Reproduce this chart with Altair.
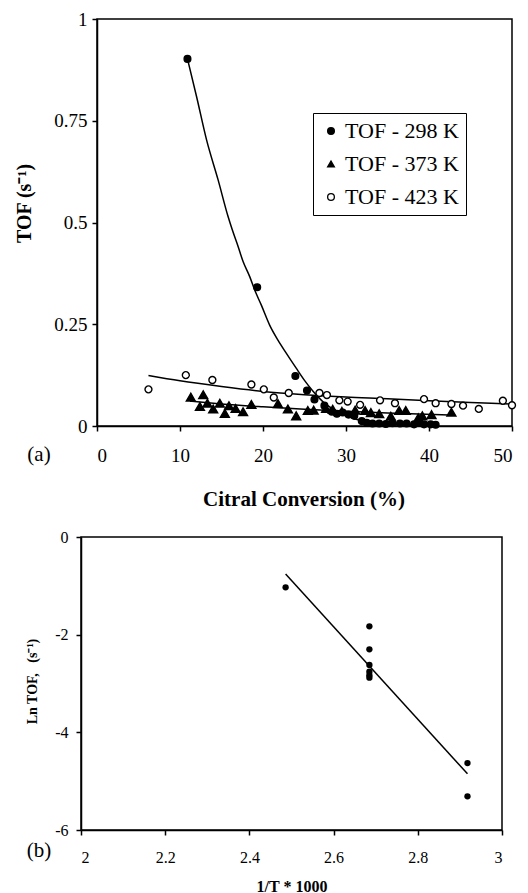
import altair as alt
import pandas as pd

FONT = "Liberation Serif"

# ---------------- panel (a): TOF vs citral conversion ----------------
names = ["TOF - 298 K", "TOF - 373 K", "TOF - 423 K"]

t298_x = [10.9, 19.3, 23.9, 25.3, 26.2, 27.4, 28.3, 28.9, 29.6, 30.3, 31.0, 31.9,
          32.5, 33.2, 34.0, 34.8, 35.6, 36.5, 37.3, 38.2, 38.8, 39.4, 40.2, 40.8]
t298_y = [0.902, 0.341, 0.123, 0.087, 0.065, 0.050, 0.035, 0.030, 0.033, 0.028, 0.025, 0.012,
          0.008, 0.006, 0.006, 0.005, 0.007, 0.006, 0.006, 0.004, 0.012, 0.004, 0.004, 0.003]

t373_x = [11.3, 12.4, 12.8, 13.3, 14.0, 14.8, 15.4, 15.9, 16.7, 17.6, 18.6, 21.8, 23.0, 24.0, 25.4,
          26.1, 27.6, 28.4, 29.5, 31.1, 32.3, 33.0, 34.0, 35.4, 36.4, 37.2, 38.7, 39.2, 40.3, 42.7]
t373_y = [0.071, 0.048, 0.077, 0.056, 0.042, 0.056, 0.031, 0.050, 0.043, 0.035, 0.053, 0.055, 0.042, 0.025, 0.038,
          0.039, 0.043, 0.041, 0.036, 0.039, 0.038, 0.033, 0.030, 0.024, 0.038, 0.038, 0.020, 0.025, 0.028, 0.034]

t423_x = [6.2, 10.7, 13.9, 18.6, 20.1, 21.3, 23.1, 26.8, 27.7, 29.2, 30.2, 31.7, 34.1, 35.9,
          39.4, 40.8, 42.7, 44.1, 46.0, 48.9, 50.0]
t423_y = [0.090, 0.125, 0.113, 0.102, 0.090, 0.070, 0.081, 0.081, 0.076, 0.063, 0.060, 0.052, 0.063, 0.056,
          0.066, 0.056, 0.054, 0.050, 0.042, 0.062, 0.051]

# trend curves
fit298_x = [10.9, 12.0, 13.2, 14.6, 15.8, 16.3, 17.0, 17.6, 18.4, 19.0, 19.8, 20.8, 21.8, 22.8,
            24.0, 25.0, 26.0, 27.2, 29.0, 31.0, 34.0, 37.0, 40.5]
fit298_y = [0.902, 0.809, 0.703, 0.604, 0.514, 0.482, 0.441, 0.404, 0.367, 0.334, 0.297, 0.248, 0.211, 0.179,
            0.142, 0.112, 0.086, 0.060, 0.035, 0.018, 0.008, 0.003, 0.000]
fit373_x = [11.2, 15, 20, 25, 30, 35, 42.5]
fit373_y = [0.061, 0.054, 0.047, 0.041, 0.036, 0.032, 0.027]
fit423_x = [6.2, 10, 15, 20, 25, 30, 35, 40, 45, 50]
fit423_y = [0.124, 0.111, 0.097, 0.085, 0.077, 0.071, 0.067, 0.062, 0.058, 0.054]

xa_domain = [0, 50]
ya_domain = [0, 1]
xa_ticks = [0, 10, 20, 30, 40, 50]
ya_ticks = [0, 0.25, 0.5, 0.75, 1]

# ---------------- panel (b): Arrhenius plot ----------------
b_x = [2.486, 2.685, 2.685, 2.685, 2.685, 2.685, 2.685, 2.918, 2.918]
b_y = [-1.03, -1.83, -2.30, -2.62, -2.76, -2.83, -2.88, -4.63, -5.31]
fitb_x = [2.486, 2.918]
fitb_y = [-0.76, -4.85]

xb_domain = [2, 3]
yb_domain = [-6, 0]
xb_ticks = [2, 2.2, 2.4, 2.6, 2.8, 3]
yb_ticks = [-6, -4, -2, 0]

# ---------------- tables ----------------
series_x = [t298_x, t373_x, t423_x]
series_y = [t298_y, t373_y, t423_y]
df_series = [pd.DataFrame({"x": sx, "y": sy, "series": [nm] * len(sx)})
             for sx, sy, nm in zip(series_x, series_y, names)]
df_fit = pd.DataFrame({
    "x": fit298_x + fit373_x + fit423_x,
    "y": fit298_y + fit373_y + fit423_y,
    "curve": ["a"] * len(fit298_x) + ["b"] * len(fit373_x) + ["c"] * len(fit423_x),
})
df_frame_a = pd.DataFrame({"x": [xa_domain[0]], "x2": [xa_domain[1]], "y": [ya_domain[0]], "y2": [ya_domain[1]]})
df_b = pd.DataFrame({"x": b_x, "y": b_y})
df_bfit = pd.DataFrame({"x": fitb_x, "y": fitb_y})

# ---------------- panel (a) chart ----------------
xa_scale = alt.Scale(domain=xa_domain, range=[16, 431], nice=False, zero=False)
ya_scale = alt.Scale(domain=ya_domain, nice=False, zero=False)

xa_axis = alt.Axis(values=xa_ticks, labelExpr="toString(datum.value)", title="Citral Conversion (%)",
                   tickSize=5, labelPadding=15, labelFontSize=19, titleFontSize=21,
                   titleFontWeight="bold", titleX=222.5, titleY=73, titleBaseline="middle")
ya_axis = alt.Axis(values=ya_ticks, labelExpr="toString(datum.value)", title="TOF (s⁻¹)",
                   offset=-16, tickSize=5, labelPadding=5, labelFontSize=19, titleFontSize=20,
                   titleFontWeight="bold", titleX=-73, titleY=184, titleBaseline="middle")

leg = alt.Legend(title=None, orient="none", legendX=232, legendY=94, direction="vertical",
                 labelFont=FONT, labelFontSize=22, labelColor="black", labelOffset=3,
                 rowPadding=11, padding=7, strokeColor="black", fillColor="white",
                 symbolSize=45, symbolStrokeColor="black", symbolStrokeWidth=1.3, symbolOpacity=1)

shape_scale = alt.Scale(domain=names, range=["circle", "triangle-up", "circle"])
fill_scale = alt.Scale(domain=names, range=["black", "black", "white"])
stroke_scale = alt.Scale(domain=names, range=["black", "black", "black"])
mark_sizes = [45, 80, 48]

frame_a = alt.Chart(df_frame_a).mark_rect(fill="transparent", stroke="black", strokeWidth=1.5).encode(
    x=alt.X("x:Q", scale=xa_scale, axis=xa_axis),
    x2="x2",
    y=alt.Y("y:Q", scale=ya_scale, axis=ya_axis),
    y2="y2",
)
lines_a = alt.Chart(df_fit).mark_line(color="black", strokeWidth=1.5, interpolate="monotone").encode(
    x=alt.X("x:Q", scale=xa_scale, axis=xa_axis),
    y=alt.Y("y:Q", scale=ya_scale, axis=ya_axis),
    detail="curve:N",
)
pt_layers = [
    alt.Chart(d).mark_point(filled=True, strokeWidth=1.4, opacity=1, size=sz).encode(
        x=alt.X("x:Q", scale=xa_scale, axis=xa_axis),
        y=alt.Y("y:Q", scale=ya_scale, axis=ya_axis),
        shape=alt.Shape("series:N", scale=shape_scale, legend=leg),
        fill=alt.Fill("series:N", scale=fill_scale, legend=leg),
        stroke=alt.Stroke("series:N", scale=stroke_scale, legend=leg),
    )
    for d, sz in zip(df_series, mark_sizes)
]
lab_a = alt.Chart(pd.DataFrame({"t": ["(a)"]})).mark_text(
    font=FONT, fontSize=21, color="black", align="center", baseline="middle").encode(
    text="t:N", x=alt.value(-42), y=alt.value(436))

top = alt.layer(frame_a, lines_a, *pt_layers, lab_a).properties(
    width=431, height=407, view=alt.ViewBackground(stroke="transparent"))

# ---------------- panel (b) chart ----------------
xb_scale = alt.Scale(domain=xb_domain, nice=False, zero=False)
yb_scale = alt.Scale(domain=yb_domain, nice=False, zero=False)
xb_axis = alt.Axis(values=xb_ticks, labelExpr="toString(datum.value)", title="1/T * 1000",
                   tickSize=5, labelPadding=14, labelFontSize=16, titleFontSize=16,
                   titleFontWeight="bold", titleX=210.5, titleY=56, titleBaseline="middle")
yb_axis = alt.Axis(values=yb_ticks, labelExpr="toString(datum.value)", title="Ln TOF,\u00a0\u00a0\u00a0(s⁻¹)",
                   tickSize=5, labelPadding=8, labelFontSize=16, titleFontSize=14,
                   titleFontWeight="bold", titleX=-49, titleY=144, titleBaseline="middle")

line_b = alt.Chart(df_bfit).mark_line(color="black", strokeWidth=1.5).encode(
    x=alt.X("x:Q", scale=xb_scale, axis=xb_axis),
    y=alt.Y("y:Q", scale=yb_scale, axis=yb_axis),
)
pts_b = alt.Chart(df_b).mark_circle(color="black", size=40, opacity=1).encode(
    x=alt.X("x:Q", scale=xb_scale, axis=xb_axis),
    y=alt.Y("y:Q", scale=yb_scale, axis=yb_axis),
)
lab_b = alt.Chart(pd.DataFrame({"t": ["(b)"]})).mark_text(
    font=FONT, fontSize=21, color="black", align="center", baseline="middle").encode(
    text="t:N", x=alt.value(-42), y=alt.value(314))

bottom = alt.layer(line_b, pts_b, lab_b).properties(width=421, height=293)

chart = alt.vconcat(top, bottom, spacing=18).properties(
    autosize=alt.AutoSizeParams(type="none"),
    padding={"left": 81, "top": 19, "right": 447, "bottom": 874},
    background="white",
).configure_axis(
    labelFont=FONT, titleFont=FONT, labelColor="black", titleColor="black",
    domainColor="black", tickColor="black", domainWidth=1.5, tickWidth=1.5, grid=False,
).configure_view(stroke="black", strokeWidth=1.5)

chart.save("out.html", embed_options={"renderer": "svg", "actions": False})
